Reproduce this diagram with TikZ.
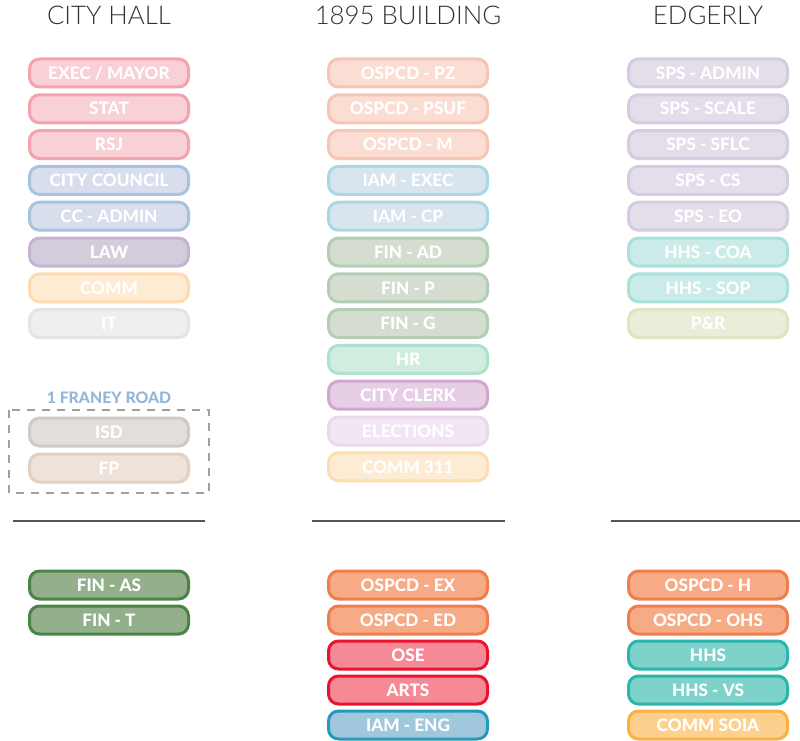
\documentclass[tikz,border=0pt]{standalone}
\usepackage{fontspec}
\setmainfont{Lato}
\newfontfamily\sitefont{Lato Light}
\newfontfamily\deptfont{Lato Heavy}

\definecolor{headgray}{HTML}{333333}
\definecolor{rulegray}{HTML}{555555}
\definecolor{dashgray}{HTML}{A0A0A0}
\definecolor{franeyblue}{HTML}{94B5DA}
% fill / line pairs
\definecolor{mayorfill}{HTML}{F9D0D6}    \definecolor{mayorline}{HTML}{F4A3AE}
\definecolor{councilfill}{HTML}{D9DEED}  \definecolor{councilline}{HTML}{A7C3DF}
\definecolor{lawfill}{HTML}{D3CCDB}      \definecolor{lawline}{HTML}{C5B5D2}
\definecolor{commfill}{HTML}{FDEBD3}     \definecolor{commline}{HTML}{FCDCB0}
\definecolor{itfill}{HTML}{EFEFEF}       \definecolor{itline}{HTML}{E4E4E6}
\definecolor{isdfill}{HTML}{E2DEDC}      \definecolor{isdline}{HTML}{D2C9C4}
\definecolor{fpfill}{HTML}{EEE2D9}       \definecolor{fpline}{HTML}{E3D0C0}
\definecolor{finfill}{HTML}{93AF8C}      \definecolor{finline}{HTML}{4A8547}
\definecolor{planfill}{HTML}{FBDDD3}     \definecolor{planline}{HTML}{F7C5B3}
\definecolor{iamfill}{HTML}{D8E5EE}      \definecolor{iamline}{HTML}{A9D8E4}
\definecolor{finlfill}{HTML}{D5DDD0}     \definecolor{finlline}{HTML}{B3CEB5}
\definecolor{hrfill}{HTML}{D0EDE0}       \definecolor{hrline}{HTML}{AEE0CB}
\definecolor{clerkfill}{HTML}{E6CEE5}    \definecolor{clerkline}{HTML}{D2A6CF}
\definecolor{electfill}{HTML}{F2E6F3}    \definecolor{electline}{HTML}{EAD9EB}
\definecolor{ospcdfill}{HTML}{F6AA86}    \definecolor{ospcdline}{HTML}{F07E4D}
\definecolor{osefill}{HTML}{F68996}      \definecolor{oseline}{HTML}{E8142F}
\definecolor{engfill}{HTML}{A1C7DC}      \definecolor{engline}{HTML}{219CBE}
\definecolor{spsfill}{HTML}{E4DDEA}      \definecolor{spsline}{HTML}{D5CCE1}
\definecolor{hhslfill}{HTML}{CAEBE8}     \definecolor{hhslline}{HTML}{A9E0DB}
\definecolor{prfill}{HTML}{E9EED9}       \definecolor{prline}{HTML}{DEE5C3}
\definecolor{hhsfill}{HTML}{7DD2CA}      \definecolor{hhsline}{HTML}{2BB5AC}
\definecolor{soiafill}{HTML}{FDD08E}     \definecolor{soialine}{HTML}{FBB043}

\tikzset{
  dept/.style={rounded corners=10pt, line width=3pt, minimum width=159pt,
    minimum height=28pt, inner sep=0pt, text=white,
    font=\fontsize{17.2}{19}\deptfont, text height=12.4pt, text depth=0pt},
  box/.style={dept, fill=#1fill, draw=#1line},
  site/.style={anchor=base, text=headgray, font=\fontsize{25.8}{28}\sitefont},
  floorline/.style={rulegray, line width=1.1pt}
}

\begin{document}
\begin{tikzpicture}[x=1pt,y=-1pt]
  \useasboundingbox (0,0) rectangle (800,741);

  % city hall
  \begin{scope}[xshift=109pt]
    \node[site] (cityhall) at (0,25) {CITY HALL};
    \node[box=mayor] (exec) at (0,73) {EXEC / MAYOR};
    \node[box=mayor] (stat) at (0,108.8) {STAT};
    \node[box=mayor] (rsj) at (0,144.6) {RSJ};
    \node[box=council] (council) at (0,180.4) {CITY COUNCIL};
    \node[box=council] (ccadmin) at (0,216.2) {CC - ADMIN};
    \node[box=law] (law) at (0,252) {LAW};
    \node[box=comm] (comm) at (0,287.8) {COMM};
    \node[box=it] (it) at (0,323.6) {IT};

    \node[anchor=base, text=franeyblue, font=\fontsize{15.8}{18}\deptfont]
      (franey) at (0,403) {1 FRANEY ROAD};
    \draw[dashgray, line width=1.2pt, dash pattern=on 8pt off 7pt] (-100,410) rectangle (100,493);
    \node[box=isd] (isd) at (0,432) {ISD};
    \node[box=fp] (fp) at (0,468) {FP};

    \draw[floorline] (-96,521) -- (96,521);

    \node[box=fin] (finas) at (0,585) {FIN - AS};
    \node[box=fin] (fint) at (0,620) {FIN - T};
  \end{scope}

  % 1895 building
  \begin{scope}[xshift=408pt]
    \node[site] (building) at (0,25) {1895 BUILDING};
    \node[box=plan] (pz) at (0,73) {OSPCD - PZ};
    \node[box=plan] (psuf) at (0,108.8) {OSPCD - PSUF};
    \node[box=plan] (ospcdm) at (0,144.6) {OSPCD - M};
    \node[box=iam] (iamexec) at (0,180.4) {IAM - EXEC};
    \node[box=iam] (iamcp) at (0,216.2) {IAM - CP};
    \node[box=finl] (finad) at (0,252) {FIN - AD};
    \node[box=finl] (finp) at (0,287.8) {FIN - P};
    \node[box=finl] (fing) at (0,323.6) {FIN - G};
    \node[box=hr] (hr) at (0,359.4) {HR};
    \node[box=clerk] (clerk) at (0,395.2) {CITY CLERK};
    \node[box=elect] (elections) at (0,431) {ELECTIONS};
    \node[box=comm] (comm311) at (0,466.8) {COMM 311};

    \draw[floorline] (-96,521) -- (97,521);

    \node[box=ospcd] (ospcdex) at (0,585) {OSPCD - EX};
    \node[box=ospcd] (ospcded) at (0,620) {OSPCD - ED};
    \node[box=ose] (ose) at (0,655) {OSE};
    \node[box=ose] (arts) at (0,690) {ARTS};
    \node[box=eng] (iameng) at (0,725) {IAM - ENG};
  \end{scope}

  % edgerly
  \begin{scope}[xshift=708pt]
    \node[site] (edgerly) at (0,25) {EDGERLY};
    \node[box=sps] (spsadmin) at (0,73) {SPS - ADMIN};
    \node[box=sps] (spsscale) at (0,108.8) {SPS - SCALE};
    \node[box=sps] (spssflc) at (0,144.6) {SPS - SFLC};
    \node[box=sps] (spscs) at (0,180.4) {SPS - CS};
    \node[box=sps] (spseo) at (0,216.2) {SPS - EO};
    \node[box=hhsl] (hhscoa) at (0,252) {HHS - COA};
    \node[box=hhsl] (hhssop) at (0,287.8) {HHS - SOP};
    \node[box=pr] (pr) at (0,323.6) {P\&R};

    \draw[floorline] (-97,521) -- (92,521);

    \node[box=ospcd] (ospcdh) at (0,585) {OSPCD - H};
    \node[box=ospcd] (ospcdohs) at (0,620) {OSPCD - OHS};
    \node[box=hhs] (hhs) at (0,655) {HHS};
    \node[box=hhs] (hhsvs) at (0,690) {HHS - VS};
    \node[box=soia] (soia) at (0,725) {COMM SOIA};
  \end{scope}
\end{tikzpicture}
\end{document}
